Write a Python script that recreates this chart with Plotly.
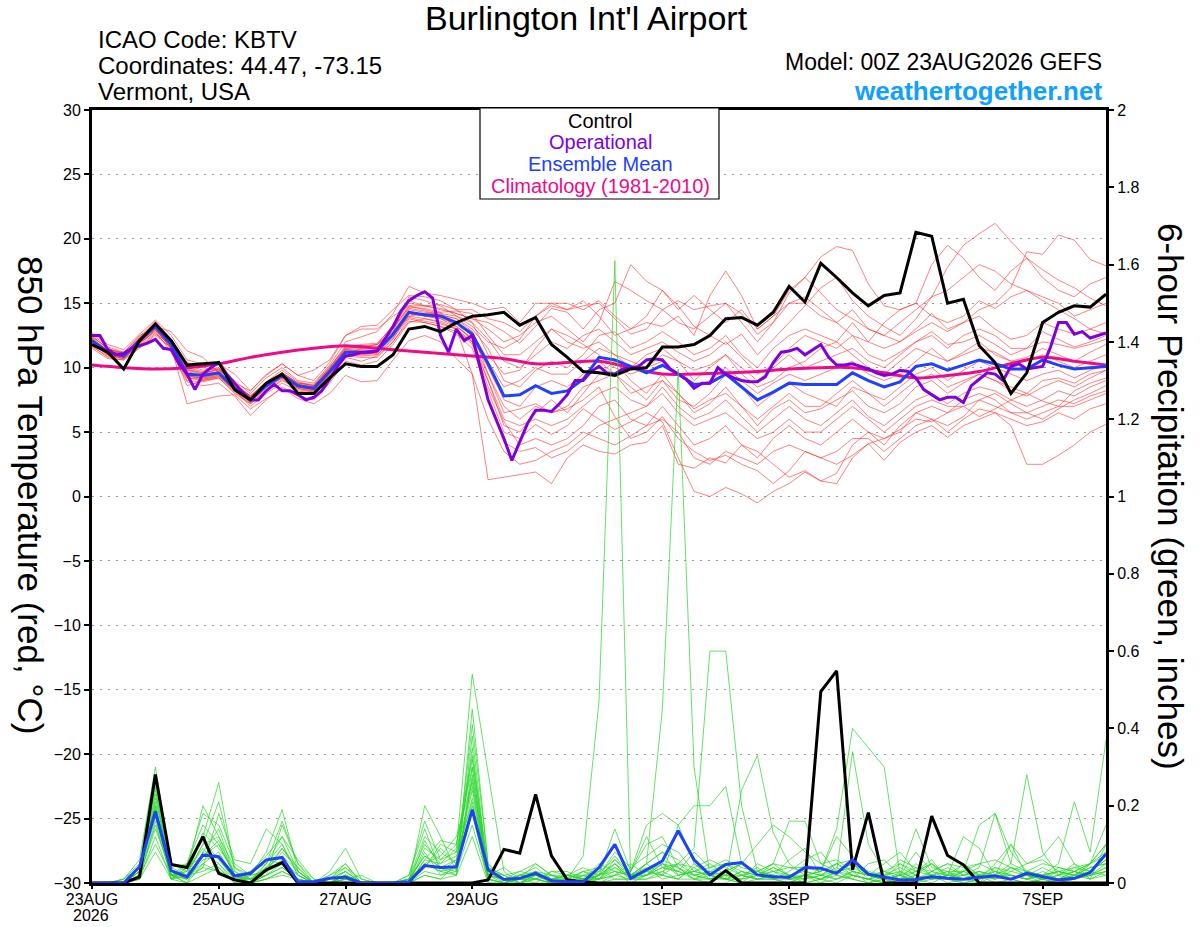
import pandas as pd
import plotly.graph_objects as go

# ---- time axes -------------------------------------------------------------
times_6h = pd.date_range("2026-08-23 00:00", periods=65, freq="6h")
times_3h = pd.date_range("2026-08-23 00:00", periods=129, freq="3h")
times_12h = pd.date_range("2026-08-23 00:00", periods=33, freq="12h")

tick_dates = ["2026-08-23", "2026-08-25", "2026-08-27", "2026-08-29",
              "2026-09-01", "2026-09-03", "2026-09-05", "2026-09-07"]
tick_labels = ["23AUG", "25AUG", "27AUG", "29AUG",
               "1SEP", "3SEP", "5SEP", "7SEP"]
year_label = "2026"

# ---- 850 hPa temperature (C) -----------------------------------------------
control_temp = [11.8, 11.2, 9.9, 12.1, 13.4, 12.1, 10.2, 10.3, 10.4, 8.3,
                7.5, 8.8, 9.5, 8.0, 8.0, 9.2, 10.3, 10.1, 10.1, 11.0,
                13.0, 13.2, 12.8, 13.5, 14.0, 14.1, 14.3, 13.3, 13.9, 11.8,
                10.8, 9.7, 9.6, 9.4, 9.9, 10.0, 11.6, 11.6, 11.8, 12.5,
                13.8, 13.9, 13.3, 14.3, 16.3, 15.1, 18.1, 17.0, 15.8, 14.8,
                15.6, 15.8, 20.5, 20.2, 15.0, 15.3, 11.7, 10.4, 8.0, 9.6,
                13.5, 14.3, 14.8, 14.7, 15.7]

mean_temp = [12.1, 11.2, 10.9, 12.1, 13.2, 11.8, 9.5, 9.4, 9.6, 8.4,
             7.5, 8.6, 9.4, 8.6, 8.4, 9.7, 11.2, 11.2, 11.3, 12.6,
             14.3, 14.1, 14.0, 13.5, 12.6, 10.3, 7.8, 7.9, 8.6, 8.0,
             8.2, 9.1, 10.8, 10.6, 10.1, 9.6, 10.2, 9.5, 8.7, 8.8,
             9.5, 8.5, 7.5, 8.1, 8.8, 8.7, 8.7, 8.7, 9.6, 9.0,
             8.5, 8.9, 10.1, 10.3, 9.8, 10.2, 10.6, 10.3, 9.9, 9.9,
             10.6, 10.2, 9.9, 10.0, 10.1]

# operational run, 3-hourly
oper_temp = [12.5, 12.5, 11.4, 11.0, 11.1, 11.5, 11.7, 11.9, 12.2, 11.5,
             11.4, 10.3, 9.5, 8.3, 9.5, 10.0, 10.4, 9.5, 8.8, 8.1,
             7.5, 7.5, 8.2, 8.7, 8.2, 8.2, 7.9, 7.5, 7.7, 8.2,
             9.1, 10.1, 10.9, 11.0, 11.2, 11.2, 11.3, 12.3, 13.2, 14.4,
             15.2, 15.6, 15.9, 15.4, 12.5, 11.2, 13.0, 12.1, 12.5, 10.0,
             7.5, 6.0, 4.5, 2.8, 4.3, 5.7, 6.7, 6.7, 6.6, 7.2,
             7.9, 9.0, 9.0, 9.7, 10.1, 9.6, 9.5, 9.9, 10.0, 10.1,
             10.6, 10.7, 10.6, 9.9, 9.5, 9.1, 8.4, 8.8, 8.8, 10.0,
             9.5, 9.2, 9.0, 8.9, 8.9, 9.3, 10.4, 11.2, 11.3, 11.5,
             11.0, 11.4, 11.8, 10.8, 10.2, 10.2, 10.3, 10.1, 9.9, 9.6,
             9.4, 9.5, 9.8, 9.7, 9.2, 8.3, 7.9, 7.5, 7.7, 7.7,
             7.3, 8.6, 9.1, 9.6, 9.5, 9.0, 10.1, 10.3, 9.9, 10.0,
             10.1, 11.6, 13.5, 13.5, 12.6, 12.8, 12.3, 12.5, 12.7]

# climatology (1981-2010), 12-hourly
clim_temp = [10.2, 10.0, 9.9, 10.0, 10.3, 10.8, 11.2, 11.5, 11.7, 11.5,
             11.3, 11.1, 10.9, 10.7, 10.3, 10.4, 10.5, 10.0, 9.5, 9.5,
             9.6, 9.7, 9.9, 10.0, 10.0, 9.6, 9.2, 9.4, 9.7, 10.3,
             10.8, 10.5, 10.2]

# ensemble members
t01 = [12.4, 11.5, 11.0, 12.3, 13.5, 12.0, 10.2, 9.8, 10.0, 8.6, 7.8, 8.9, 9.8, 8.9, 8.6,
       10.0, 11.6, 11.8, 11.9, 13.2, 15.0, 14.8, 14.5, 14.2, 13.8, 13.5, 12.8, 11.9, 13.2, 14.6,
       14.3, 13.0, 14.5, 15.0, 18.0, 16.7, 16.0, 14.8, 13.2, 12.5, 11.8, 12.6, 11.0, 12.2, 13.5,
       14.8, 16.2, 17.0, 15.2, 14.0, 13.2, 12.5, 13.8, 15.5, 17.8, 19.5, 20.4, 21.2, 19.8, 18.5,
       17.6, 16.8, 16.2, 15.4, 14.8]
t02 = [11.9, 11.0, 10.7, 11.8, 12.9, 11.5, 9.0, 8.9, 9.2, 8.0, 7.2, 8.2, 9.0, 8.4, 8.1,
       9.5, 11.0, 11.5, 11.8, 12.8, 15.5, 15.2, 14.8, 14.0, 13.2, 12.0, 11.5, 12.2, 14.0, 15.0,
       14.5, 14.8, 15.0, 13.8, 12.6, 13.0, 14.5, 15.2, 14.5, 14.8, 15.0, 14.2, 12.6, 13.5, 15.8,
       17.0, 18.6, 19.4, 19.1, 16.5, 14.8, 14.5, 15.0, 14.0, 13.5, 14.0, 15.2, 14.6, 15.5, 16.0,
       15.2, 14.5, 13.8, 13.0, 12.6]
t03 = [12.2, 11.4, 11.2, 12.5, 13.0, 11.5, 8.6, 9.0, 9.3, 8.3, 7.0, 8.0, 8.8, 8.2, 8.0,
       9.5, 10.8, 10.5, 10.9, 12.0, 13.8, 13.5, 13.2, 12.6, 11.5, 8.2, 5.0, 4.5, 5.6, 4.8,
       5.5, 6.8, 6.0, 5.2, 5.8, 6.5, 5.8, 3.0, 0.4, 0.0, 0.7, 0.2, -0.5, 0.4, 1.0,
       1.9, 1.2, 1.0, 3.0, 4.1, 4.5, 5.2, 6.0, 5.8, 6.5, 7.0, 6.2, 6.8, 7.5, 8.0,
       7.4, 7.0, 8.2, 8.8, 9.2]
t04 = [11.7, 10.8, 10.6, 11.6, 12.6, 11.9, 9.8, 9.6, 9.8, 8.6, 7.6, 8.8, 9.6, 8.8, 8.6,
       9.8, 11.4, 11.3, 11.0, 12.2, 14.2, 14.0, 13.8, 13.4, 12.8, 9.5, 6.5, 6.8, 7.2, 6.5,
       6.8, 7.5, 8.5, 6.2, 4.5, 5.0, 6.2, 4.5, 3.5, 2.8, 3.2, 2.5, 2.0, 1.0, 2.0,
       3.5, 3.0, 2.5, 3.2, 4.1, 2.8, 4.2, 5.0, 5.5, 4.6, 5.5, 6.0, 6.5, 5.5, 2.5,
       2.5, 3.2, 4.0, 5.0, 5.6]
t05 = [12.0, 11.1, 10.9, 12.0, 13.0, 11.6, 9.3, 9.2, 9.4, 8.2, 7.4, 8.5, 9.3, 8.5, 8.3,
       9.6, 11.0, 11.0, 11.2, 12.5, 14.0, 14.2, 14.3, 13.0, 9.5, 1.3, 1.5, 1.7, 1.9, 1.0,
       3.0, 4.0, 3.5, 3.3, 4.0, 4.2, 5.5, 2.5, 2.2, 3.0, 2.6, 4.0, 3.5, 2.5, 1.5,
       2.0, 1.2, 1.8, 4.0, 5.0, 4.5, 5.0, 6.5, 6.0, 5.5, 6.2, 7.5, 8.0, 7.2, 6.5,
       6.0, 6.8, 7.5, 8.0, 8.6]
t06 = [12.6, 11.6, 11.2, 12.4, 13.6, 12.2, 10.4, 10.0, 9.8, 9.0, 8.0, 9.2, 10.0, 9.0, 8.8,
       10.2, 12.0, 12.4, 12.8, 14.2, 16.3, 15.8, 15.6, 15.3, 15.0, 14.5, 14.7, 13.5, 15.0, 15.0,
       15.0, 14.5, 15.2, 14.0, 13.0, 13.5, 13.2, 14.0, 12.5, 15.6, 17.5, 15.6, 13.0, 14.0, 16.0,
       17.0, 15.8, 14.5, 13.8, 13.0, 12.5, 12.0, 12.8, 13.5, 12.8, 13.5, 14.5, 15.0, 16.2, 19.0,
       18.8, 20.3, 19.9, 18.4, 17.9]
t07 = [11.8, 11.0, 10.8, 11.9, 12.8, 11.2, 8.9, 8.6, 8.8, 7.8, 6.3, 7.5, 8.5, 7.8, 7.5,
       8.8, 10.5, 10.2, 10.5, 11.8, 13.5, 13.8, 13.5, 13.0, 11.8, 9.0, 5.5, 5.0, 6.5, 7.5,
       6.5, 8.0, 9.5, 10.5, 9.0, 8.0, 9.5, 8.0, 6.5, 7.2, 8.5, 7.0, 5.5, 6.8, 7.5,
       6.5, 6.8, 7.5, 8.2, 7.0, 6.5, 7.2, 8.5, 9.0, 8.0, 8.8, 9.5, 9.0, 8.2, 7.8,
       8.5, 9.0, 8.5, 9.2, 9.8]
t08 = [12.3, 11.3, 11.0, 12.2, 13.3, 12.0, 9.9, 9.6, 9.9, 8.7, 7.7, 8.7, 9.5, 8.7, 8.5,
       9.9, 11.5, 11.6, 11.8, 13.0, 14.8, 14.5, 14.2, 14.0, 13.5, 12.2, 10.5, 10.0, 11.0, 12.0,
       11.5, 12.5, 13.0, 12.0, 11.0, 11.5, 12.0, 11.2, 10.5, 11.0, 12.0, 10.8, 9.5, 10.2, 11.5,
       12.5, 12.0, 11.5, 12.5, 11.0, 10.5, 11.2, 12.0, 12.8, 11.8, 12.0, 12.5, 11.8, 11.0, 11.5,
       12.8, 12.2, 11.6, 12.0, 12.5]
t09 = [12.0, 11.2, 10.8, 12.0, 13.1, 11.8, 9.5, 9.5, 9.7, 8.5, 7.6, 8.7, 9.4, 8.6, 8.4,
       9.7, 11.2, 11.0, 11.1, 12.4, 14.2, 14.0, 14.0, 13.5, 12.0, 7.5, 4.2, 3.5, 3.8, 3.0,
       3.5, 4.5, 5.5, 6.0, 6.5, 7.0, 8.5, 7.0, 6.0, 6.5, 7.5, 6.2, 5.0, 6.0, 7.0,
       6.0, 5.5, 6.5, 7.5, 6.2, 5.5, 6.5, 7.5, 8.0, 7.2, 8.0, 8.5, 8.2, 7.5, 7.0,
       7.5, 8.2, 7.8, 8.5, 9.0]
t10 = [12.5, 11.4, 11.1, 12.2, 13.4, 11.7, 9.6, 9.3, 9.5, 8.4, 7.4, 8.6, 9.3, 8.6, 8.4,
       9.8, 11.3, 11.4, 11.5, 12.8, 14.5, 14.3, 14.1, 13.8, 13.0, 11.5, 9.0, 8.5, 9.8, 10.5,
       10.0, 11.0, 12.5, 12.8, 11.5, 12.0, 12.8, 12.0, 11.0, 11.5, 12.5, 11.0, 10.0, 11.5, 12.5,
       13.0, 12.5, 12.0, 13.5, 12.0, 11.5, 12.0, 13.0, 14.2, 13.0, 13.5, 14.0, 13.0, 12.2, 12.5,
       13.5, 13.0, 12.6, 13.0, 13.5]
t11 = [11.6, 10.9, 10.7, 11.7, 12.7, 11.4, 9.2, 9.0, 9.2, 8.1, 7.2, 8.3, 9.1, 8.3, 8.1,
       9.4, 10.9, 10.8, 10.8, 12.0, 13.6, 13.5, 13.2, 12.8, 12.0, 8.5, 5.8, 4.0, 4.5, 4.0,
       4.5, 5.5, 7.0, 7.5, 6.0, 5.5, 7.0, 5.5, 4.0, 4.5, 5.5, 4.0, 3.0, 4.5, 5.5,
       4.5, 4.0, 5.0, 6.0, 5.0, 4.0, 5.5, 6.5, 7.0, 6.5, 7.5, 8.0, 7.5, 6.5, 6.0,
       6.5, 7.0, 7.0, 7.5, 8.0]
t12 = [12.2, 11.3, 11.0, 12.2, 13.2, 12.0, 10.0, 9.7, 10.0, 8.8, 7.8, 8.9, 9.6, 8.8, 8.6,
       10.0, 11.7, 11.7, 11.8, 13.3, 15.2, 14.8, 14.6, 14.2, 13.8, 13.0, 12.0, 12.5, 13.5, 14.0,
       13.0, 12.0, 13.5, 16.7, 16.0, 15.2, 14.5, 13.5, 13.0, 14.0, 15.0, 13.5, 12.0, 13.5, 15.0,
       15.5, 14.5, 13.5, 12.5, 12.0, 13.5, 14.5, 15.0, 18.0, 19.5, 18.5, 17.0, 16.0, 17.5, 18.5,
       17.0, 16.0, 15.5, 16.5, 17.0]
t13 = [11.9, 11.1, 10.9, 12.1, 13.1, 11.9, 9.4, 9.1, 9.3, 8.2, 7.3, 8.4, 9.2, 8.5, 8.3,
       9.7, 11.1, 11.2, 11.4, 12.7, 14.4, 14.0, 13.8, 13.2, 12.3, 10.0, 7.5, 7.0, 8.5, 9.0,
       8.5, 9.5, 10.5, 9.5, 8.0, 8.5, 9.0, 7.5, 7.0, 8.0, 9.5, 8.5, 7.0, 8.0, 8.8,
       8.0, 7.5, 7.0, 8.5, 8.0, 7.5, 8.5, 9.5, 10.0, 9.0, 9.8, 10.5, 10.0, 9.5, 9.0,
       9.5, 9.8, 9.2, 9.8, 10.2]
t14 = [12.7, 11.8, 11.4, 12.6, 13.7, 12.5, 10.6, 10.3, 10.3, 9.5, 8.2, 9.4, 10.3, 9.4, 9.8,
       10.6, 12.5, 13.2, 13.3, 14.5, 15.6, 15.5, 15.2, 14.5, 13.5, 11.0, 9.5, 9.8, 11.5, 13.0,
       12.5, 11.8, 11.0, 10.0, 9.5, 10.0, 11.0, 10.5, 9.8, 10.2, 11.0, 9.5, 8.5, 9.0, 10.0,
       10.5, 11.5, 12.0, 11.0, 10.0, 9.5, 10.5, 11.5, 11.0, 10.5, 11.2, 12.0, 11.0, 10.5, 10.8,
       11.5, 11.0, 10.5, 11.2, 11.8]
t15 = [11.5, 10.7, 10.6, 11.5, 12.5, 11.6, 7.2, 7.5, 7.8, 7.9, 6.8, 7.6, 8.4, 7.6, 7.2,
       8.0, 9.4, 8.9, 9.0, 10.6, 12.1, 12.5, 12.0, 10.7, 9.5, 6.0, 3.5, 2.5, 2.8, 3.5,
       4.0, 5.0, 4.5, 4.0, 4.7, 5.5, 6.0, 5.0, 3.0, 2.5, 3.5, 3.0, 2.5, 3.5, 4.0,
       3.5, 3.0, 3.5, 4.5, 4.5, 3.5, 4.5, 5.5, 6.0, 5.0, 6.0, 6.8, 6.5, 6.0, 5.5,
       5.8, 6.5, 6.0, 6.8, 7.2]
t16 = [12.1, 11.3, 10.9, 12.1, 13.2, 12.8, 11.3, 10.8, 9.6, 8.8, 8.2, 9.5, 10.3, 9.4, 9.0,
       10.4, 12.5, 13.0, 13.0, 14.0, 14.8, 14.8, 14.9, 14.5, 14.5, 13.8, 13.5, 12.8, 14.0, 14.8,
       14.5, 15.2, 14.0, 12.5, 13.0, 14.0, 16.0, 14.5, 15.6, 14.5, 13.5, 14.5, 13.0, 14.0, 15.0,
       15.0, 14.0, 13.5, 14.5, 13.0, 12.5, 13.5, 14.5, 15.5, 16.0, 17.0, 18.0, 17.5, 16.5, 16.0,
       15.5, 15.0, 14.0, 14.5, 15.0]
t17 = [12.4, 11.5, 11.1, 12.3, 13.4, 11.9, 9.7, 9.4, 9.6, 8.6, 7.7, 8.8, 9.6, 8.8, 8.7,
       10.1, 11.5, 11.6, 11.6, 13.0, 14.6, 14.4, 14.1, 13.8, 12.8, 10.5, 8.5, 9.0, 10.0, 9.5,
       9.5, 10.5, 11.5, 11.0, 10.5, 10.0, 10.5, 9.5, 8.5, 9.0, 10.0, 9.0, 8.0, 8.8, 9.5,
       9.0, 9.5, 10.0, 10.5, 9.5, 9.0, 9.5, 10.5, 11.5, 10.5, 11.0, 11.5, 11.2, 10.5, 10.5,
       11.0, 10.5, 10.0, 10.5, 11.0]
t18 = [11.8, 11.0, 10.8, 11.9, 12.9, 11.7, 9.2, 9.1, 9.4, 8.3, 7.5, 8.6, 9.3, 8.5, 8.2,
       9.6, 11.0, 11.1, 11.2, 12.5, 14.0, 13.8, 13.6, 13.2, 12.2, 9.0, 6.0, 5.5, 6.0, 5.5,
       6.0, 7.0, 8.0, 8.5, 7.5, 7.0, 8.0, 6.5, 5.5, 6.0, 6.5, 5.5, 4.5, 5.0, 6.0,
       5.0, 5.0, 6.0, 7.0, 6.0, 5.0, 6.0, 7.0, 7.5, 7.0, 7.0, 7.5, 7.0, 6.5, 6.5,
       7.0, 7.5, 7.2, 7.8, 8.2]
t19 = [12.3, 11.2, 11.0, 12.3, 13.3, 12.2, 9.8, 9.5, 9.9, 8.7, 7.8, 8.8, 9.5, 8.7, 8.5,
       9.9, 11.4, 11.5, 11.6, 13.1, 14.7, 14.6, 14.3, 14.4, 14.2, 12.5, 11.0, 11.0, 12.0, 13.0,
       12.0, 11.5, 12.0, 11.0, 10.0, 11.0, 11.5, 10.5, 9.0, 10.0, 11.0, 10.0, 9.0, 10.0, 11.0,
       10.0, 10.5, 11.0, 11.5, 10.5, 10.0, 11.0, 12.0, 12.5, 11.5, 12.5, 13.0, 12.5, 11.5, 11.5,
       12.0, 11.8, 11.5, 11.8, 12.2]
t20 = [12.0, 11.0, 10.7, 11.9, 13.0, 11.5, 9.4, 9.2, 9.5, 8.3, 7.3, 8.5, 9.2, 8.4, 8.2,
       9.5, 11.0, 10.9, 11.0, 12.3, 13.9, 13.6, 13.4, 13.0, 12.0, 9.5, 7.0, 6.0, 7.0, 6.5,
       7.0, 8.5, 9.0, 9.5, 8.5, 7.5, 9.0, 8.0, 6.8, 7.5, 8.0, 7.0, 6.0, 7.0, 8.0,
       7.0, 7.0, 8.0, 9.0, 8.0, 7.0, 8.0, 9.0, 9.5, 8.5, 9.0, 9.5, 9.0, 8.5, 8.0,
       9.0, 9.2, 8.8, 9.5, 9.8]

# ---- 6-hour precipitation (inches) -----------------------------------------
control_prcp = [0, 0, 0, 0.016, 0.281, 0.048, 0.04, 0.12, 0.025, 0.008,
                0, 0.034, 0.053, 0, 0, 0, 0, 0, 0, 0,
                0, 0, 0, 0, 0, 0.008, 0.087, 0.077, 0.229, 0.07,
                0.008, 0.003, 0, 0, 0, 0, 0, 0, 0, 0,
                0.032, 0, 0, 0, 0, 0, 0.495, 0.549, 0.034, 0.182,
                0, 0, 0, 0.173, 0.071, 0.047, 0, 0, 0, 0,
                0, 0, 0, 0, 0]

mean_prcp = [0, 0, 0, 0.042, 0.185, 0.032, 0.016, 0.072, 0.068, 0.018,
             0.025, 0.06, 0.066, 0.003, 0.003, 0.012, 0.015, 0, 0, 0,
             0.003, 0.045, 0.04, 0.042, 0.19, 0.034, 0.009, 0.012, 0.025, 0.006,
             0.003, 0.003, 0.04, 0.1, 0.012, 0.035, 0.057, 0.135, 0.06, 0.021,
             0.048, 0.053, 0.021, 0.016, 0.015, 0.04, 0.038, 0.025, 0.06, 0.023,
             0.016, 0.008, 0.009, 0.016, 0.012, 0.01, 0.015, 0.018, 0.01, 0.025,
             0.016, 0.008, 0.012, 0.027, 0.075]

p01 = [0, 0, 0, 0.02, 0.22, 0.03, 0.01, 0.08, 0.05, 0, 0, 0.02, 0.05, 0, 0,
       0, 0.01, 0, 0, 0, 0, 0.05, 0.03, 0.02, 0.30, 0.02, 0, 0.01, 0.03, 0,
       0.01, 0.07, 0.47, 1.61, 0.01, 0.02, 0.05, 0.03, 0.01, 0, 0, 0.02, 0.04, 0.01, 0,
       0, 0.01, 0, 0.02, 0.01, 0, 0, 0.02, 0.05, 0.01, 0, 0, 0.02, 0.01, 0,
       0.01, 0, 0.02, 0.05, 0.10]
p02 = [0, 0, 0, 0.03, 0.18, 0.01, 0.02, 0.10, 0.12, 0.02, 0, 0.05, 0.10, 0.02, 0,
       0.01, 0.03, 0, 0, 0, 0.01, 0.12, 0.08, 0.05, 0.41, 0.05, 0.01, 0, 0.02, 0.01,
       0, 0.01, 0.02, 0.05, 0.01, 0.05, 0.45, 1.33, 0.30, 0.02, 0.01, 0, 0.03, 0.05, 0.02,
       0, 0, 0.03, 0.05, 0.02, 0.01, 0, 0, 0.02, 0.03, 0.01, 0, 0.04, 0.02, 0.01,
       0, 0.01, 0.03, 0.02, 0.05]
p03 = [0, 0, 0, 0.02, 0.25, 0.02, 0, 0.05, 0.03, 0.01, 0.02, 0.08, 0.19, 0.03, 0,
       0, 0.02, 0, 0, 0, 0, 0.02, 0.01, 0.05, 0.20, 0, 0, 0.02, 0.01, 0,
       0, 0, 0.03, 0.10, 0.02, 0.05, 0.02, 0.05, 0.09, 0.60, 0.60, 0.20, 0.03, 0.01, 0,
       0.02, 0.01, 0.03, 0.05, 0.01, 0, 0.03, 0.01, 0, 0.02, 0.05, 0.02, 0, 0.01, 0.02,
       0, 0, 0.01, 0.03, 0.06]
p04 = [0, 0, 0, 0.04, 0.20, 0.01, 0.04, 0.12, 0.26, 0.03, 0, 0.01, 0.03, 0.01, 0,
       0.02, 0.05, 0, 0, 0, 0.01, 0.10, 0.05, 0.09, 0.54, 0.29, 0.03, 0, 0.01, 0,
       0, 0.02, 0, 0.02, 0.03, 0.10, 0.12, 0.04, 0.01, 0.03, 0.05, 0.02, 0.01, 0.02, 0.01,
       0.02, 0.03, 0.14, 0.40, 0.35, 0.30, 0.02, 0, 0.01, 0.03, 0, 0.01, 0.05, 0.10, 0.02,
       0.01, 0.03, 0.02, 0.02, 0.04]
p05 = [0, 0, 0.01, 0.05, 0.28, 0.04, 0.05, 0.18, 0.15, 0.05, 0.02, 0.03, 0.06, 0.02, 0,
       0.03, 0.09, 0.01, 0, 0, 0, 0.20, 0.12, 0.03, 0.45, 0.05, 0, 0.02, 0.03, 0.01,
       0.01, 0, 0.02, 0.14, 0.03, 0.15, 0.18, 0.15, 0.05, 0.02, 0.01, 0.24, 0.33, 0.13, 0.05,
       0.02, 0, 0.01, 0.03, 0, 0.01, 0.02, 0, 0.03, 0.05, 0.02, 0.04, 0.18, 0.08, 0.03,
       0.02, 0.05, 0.21, 0.08, 0.37]
p06 = [0, 0, 0, 0.02, 0.15, 0.02, 0.05, 0.15, 0.10, 0.02, 0.03, 0.05, 0.12, 0.06, 0.01,
       0, 0.03, 0, 0, 0, 0.02, 0.16, 0.06, 0.10, 0.30, 0.02, 0.01, 0.03, 0.05, 0.02,
       0.01, 0.03, 0.01, 0.05, 0.01, 0.03, 0.02, 0.15, 0.20, 0.20, 0.25, 0.05, 0.02, 0.05, 0.16,
       0.16, 0.05, 0.03, 0.34, 0.10, 0.03, 0.01, 0.05, 0.02, 0.01, 0.03, 0.15, 0.18, 0.05, 0.28,
       0.08, 0.02, 0.01, 0.05, 0.15]
p07 = [0, 0, 0, 0.01, 0.12, 0.01, 0.02, 0.05, 0.08, 0.01, 0.01, 0.02, 0.15, 0.05, 0,
       0.01, 0.04, 0, 0, 0, 0.01, 0.05, 0.07, 0.12, 0.26, 0.03, 0, 0.01, 0.02, 0.01,
       0.02, 0.01, 0.05, 0.03, 0.02, 0.05, 0.08, 0.02, 0.03, 0.05, 0.02, 0.01, 0.05, 0.03, 0.01,
       0.05, 0.03, 0.12, 0.07, 0.02, 0.01, 0.05, 0.03, 0.06, 0.01, 0.01, 0.02, 0.01, 0.03, 0.05,
       0.07, 0.12, 0.05, 0.03, 0.08]
p08 = [0, 0, 0.01, 0.06, 0.30, 0.05, 0.03, 0.20, 0.12, 0.04, 0.01, 0.03, 0.09, 0.04, 0,
       0, 0.01, 0.02, 0, 0, 0, 0.04, 0.10, 0.08, 0.25, 0.02, 0.04, 0.01, 0.01, 0.03,
       0.02, 0.01, 0.01, 0.02, 0.05, 0.02, 0.03, 0.01, 0.05, 0.02, 0.03, 0.05, 0.10, 0.15, 0.12,
       0.08, 0.05, 0.06, 0.03, 0.02, 0.05, 0.08, 0.03, 0.02, 0.01, 0.03, 0.05, 0.03, 0.01, 0.02,
       0.01, 0.02, 0.05, 0.01, 0.02]
p09 = [0, 0, 0, 0.03, 0.20, 0.02, 0, 0.08, 0.14, 0.02, 0, 0.02, 0.04, 0.01, 0,
       0, 0.02, 0, 0, 0, 0, 0.08, 0.02, 0.04, 0.35, 0.01, 0, 0, 0.02, 0,
       0, 0.01, 0.02, 0.07, 0.02, 0.05, 0.08, 0.06, 0.02, 0.01, 0.03, 0.05, 0.03, 0.02, 0.06,
       0.09, 0.02, 0.03, 0.01, 0.05, 0.06, 0.02, 0.08, 0.03, 0.01, 0.05, 0.02, 0.02, 0.10, 0.05,
       0.06, 0.03, 0.01, 0.02, 0.03]
p10 = [0, 0, 0, 0.02, 0.17, 0.02, 0.01, 0.04, 0.18, 0.06, 0.05, 0.14, 0.10, 0.02, 0,
       0, 0.01, 0, 0, 0, 0.02, 0.14, 0.03, 0.06, 0.22, 0.04, 0.02, 0, 0, 0.03,
       0.03, 0.01, 0.01, 0.04, 0.01, 0.02, 0.04, 0.05, 0.02, 0.03, 0.01, 0.03, 0.02, 0.04, 0.02,
       0.01, 0.02, 0.04, 0.02, 0.01, 0.02, 0.04, 0.02, 0.01, 0.02, 0.12, 0.09, 0.02, 0.04, 0.02,
       0.01, 0.04, 0.03, 0.01, 0.10]
p11 = [0, 0, 0, 0.02, 0.10, 0.02, 0.02, 0.03, 0.05, 0.01, 0, 0.01, 0.02, 0.01, 0,
       0, 0.02, 0, 0, 0, 0, 0.03, 0.02, 0.03, 0.15, 0.01, 0, 0.01, 0, 0,
       0, 0, 0.01, 0.03, 0, 0.02, 0.05, 0.04, 0.01, 0.02, 0.01, 0.02, 0.01, 0.01, 0.02,
       0.03, 0.02, 0.05, 0.02, 0.01, 0, 0.01, 0.02, 0.01, 0.01, 0.02, 0.01, 0.02, 0.02, 0.01,
       0.02, 0.03, 0.02, 0.01, 0.03]
p12 = [0, 0, 0, 0.03, 0.24, 0.03, 0.01, 0.06, 0.07, 0.01, 0.01, 0.04, 0.07, 0.03, 0,
       0.01, 0.05, 0, 0, 0, 0.01, 0.07, 0.04, 0.02, 0.28, 0.02, 0.01, 0.02, 0.04, 0.01,
       0.01, 0.02, 0.01, 0.06, 0.03, 0.12, 0.04, 0.03, 0.08, 0.04, 0.05, 0.03, 0.01, 0.01, 0.03,
       0.06, 0.08, 0.03, 0.05, 0.02, 0.01, 0.02, 0.14, 0.04, 0.03, 0.03, 0.01, 0.03, 0.02, 0.01,
       0.03, 0.01, 0.02, 0.04, 0.05]
p13 = [0, 0, 0.01, 0.04, 0.19, 0.02, 0.03, 0.09, 0.04, 0, 0.02, 0.06, 0.05, 0, 0,
       0, 0.01, 0, 0, 0, 0, 0.06, 0.05, 0.07, 0.21, 0.01, 0, 0, 0.01, 0.02,
       0, 0.03, 0.04, 0.01, 0.01, 0.01, 0.03, 0.05, 0.04, 0.01, 0.02, 0.01, 0.02, 0.03, 0.02,
       0.01, 0.04, 0.02, 0.01, 0, 0.02, 0.03, 0.01, 0.02, 0.04, 0.02, 0.03, 0.01, 0.02, 0.01,
       0.02, 0.01, 0.03, 0.02, 0.04]
p14 = [0, 0, 0, 0.01, 0.16, 0.01, 0.04, 0.07, 0.10, 0.02, 0.01, 0.02, 0.04, 0.01, 0,
       0.01, 0.03, 0, 0, 0, 0, 0.09, 0.06, 0.08, 0.32, 0.03, 0.02, 0, 0.03, 0,
       0, 0.02, 0.01, 0.02, 0.01, 0.03, 0.02, 0.01, 0.04, 0.06, 0.04, 0.02, 0.01, 0.02, 0.01,
       0.02, 0.01, 0.03, 0.04, 0.02, 0.03, 0.05, 0.02, 0.01, 0.02, 0.01, 0.02, 0.04, 0.03, 0.02,
       0.04, 0.02, 0.03, 0.05, 0.08]
p15 = [0, 0, 0, 0.02, 0.14, 0.03, 0.02, 0.04, 0.03, 0.01, 0, 0.03, 0.08, 0.04, 0,
       0, 0.02, 0, 0, 0, 0.01, 0.04, 0.09, 0.05, 0.18, 0.01, 0, 0.02, 0.01, 0,
       0.01, 0, 0.02, 0.04, 0.02, 0.04, 0.01, 0.02, 0.03, 0.02, 0.01, 0.01, 0.02, 0.01, 0.01,
       0.01, 0.02, 0.01, 0.03, 0.02, 0.01, 0.02, 0.04, 0.02, 0, 0.01, 0.03, 0.02, 0.01, 0.03,
       0.02, 0.01, 0.02, 0.03, 0.02]
p16 = [0, 0, 0, 0.03, 0.21, 0.01, 0.05, 0.11, 0.06, 0.01, 0.03, 0.07, 0.12, 0.03, 0,
       0.02, 0.04, 0.01, 0, 0, 0, 0.11, 0.04, 0.03, 0.38, 0.02, 0.01, 0.01, 0.05, 0.02,
       0.02, 0.02, 0.03, 0.06, 0.02, 0.02, 0.06, 0.04, 0.02, 0.01, 0.02, 0.05, 0.02, 0.03, 0.04,
       0.03, 0.02, 0.01, 0.02, 0.01, 0.02, 0.01, 0.03, 0.05, 0.02, 0.03, 0.02, 0.01, 0.04, 0.02,
       0.01, 0.02, 0.04, 0.03, 0.06]
p17 = [0, 0, 0, 0.01, 0.08, 0.01, 0, 0.02, 0.04, 0, 0, 0.01, 0.03, 0.01, 0,
       0, 0.01, 0, 0, 0, 0, 0.02, 0.01, 0.02, 0.12, 0, 0, 0.01, 0.01, 0,
       0, 0.01, 0, 0.01, 0.01, 0.01, 0.02, 0.01, 0.01, 0.01, 0.01, 0, 0.01, 0.02, 0.01,
       0, 0.01, 0.02, 0.01, 0, 0.01, 0, 0.01, 0.02, 0.01, 0, 0.01, 0.02, 0.01, 0,
       0.01, 0, 0.01, 0.02, 0.03]
p18 = [0, 0, 0, 0.02, 0.26, 0.04, 0.02, 0.13, 0.09, 0.03, 0.01, 0.05, 0.16, 0.05, 0.01,
       0, 0.02, 0, 0, 0, 0, 0.06, 0.11, 0.10, 0.33, 0.04, 0.02, 0.03, 0.02, 0.01,
       0.02, 0.04, 0.02, 0.08, 0.04, 0.07, 0.10, 0.08, 0.03, 0.04, 0.06, 0.04, 0.03, 0.05, 0.04,
       0.04, 0.03, 0.05, 0.06, 0.03, 0.02, 0.06, 0.04, 0.03, 0.05, 0.04, 0.05, 0.06, 0.04, 0.03,
       0.05, 0.04, 0.03, 0.05, 0.07]
p19 = [0, 0, 0, 0.03, 0.23, 0.02, 0.03, 0.10, 0.21, 0.04, 0.02, 0.03, 0.05, 0.02, 0,
       0.01, 0.02, 0, 0, 0, 0.01, 0.07, 0.04, 0.06, 0.24, 0.02, 0.01, 0.01, 0.03, 0.02,
       0.01, 0.03, 0.02, 0.05, 0.02, 0.03, 0.05, 0.02, 0.03, 0.02, 0.01, 0.03, 0.02, 0.04, 0.02,
       0.02, 0.03, 0.05, 0.03, 0.02, 0.01, 0.02, 0.03, 0.05, 0.02, 0.02, 0.03, 0.02, 0.05, 0.03,
       0.02, 0.03, 0.02, 0.04, 0.05]
p20 = [0, 0, 0, 0.02, 0.19, 0.02, 0.01, 0.07, 0.11, 0.02, 0.01, 0.04, 0.09, 0.03, 0,
       0, 0.02, 0, 0, 0, 0, 0.05, 0.03, 0.04, 0.27, 0.03, 0.01, 0.02, 0.02, 0.01,
       0.02, 0.01, 0.02, 0.03, 0.02, 0.02, 0.04, 0.03, 0.02, 0.03, 0.02, 0.02, 0.03, 0.02, 0.01,
       0.02, 0.01, 0.03, 0.02, 0.01, 0.03, 0.02, 0.01, 0.03, 0.02, 0.01, 0.02, 0.03, 0.02, 0.01,
       0.02, 0.03, 0.04, 0.05, 0.10]

temp_members = [t01, t02, t03, t04, t05, t06, t07, t08, t09, t10,
                t11, t12, t13, t14, t15, t16, t17, t18, t19, t20]
prcp_members = [p01, p02, p03, p04, p05, p06, p07, p08, p09, p10,
                p11, p12, p13, p14, p15, p16, p17, p18, p19, p20]

# ---- colours / layout helpers ----------------------------------------------
C_BLACK = "black"
C_OPER = "#8000dd"
C_MEAN = "#2040ff"
C_CLIM = "#ee0a88"
C_MEMBER_T = "rgba(255,40,40,0.65)"
C_MEMBER_P = "rgba(40,215,40,0.8)"
FONT = "Liberation Sans, Arial, sans-serif"

W, H = 1200, 927
L, R, T, B = 92, 1106, 110, 883   # plot area in pixels


def px_x(px):
    return (px - L) / (R - L)


def px_y(py):
    return (B - py) / (B - T)


fig = go.Figure()

# ensemble members (precip first so temperature sits on top)
for m in prcp_members:
    fig.add_trace(go.Scatter(x=times_6h, y=m, yaxis="y2", mode="lines",
                             line=dict(color=C_MEMBER_P, width=0.9),
                             hoverinfo="skip", showlegend=False))
for m in temp_members:
    fig.add_trace(go.Scatter(x=times_6h, y=m, mode="lines",
                             line=dict(color=C_MEMBER_T, width=0.9),
                             hoverinfo="skip", showlegend=False))

# precip control + mean
fig.add_trace(go.Scatter(x=times_6h, y=control_prcp, yaxis="y2", mode="lines",
                         line=dict(color=C_BLACK, width=3), showlegend=False))
fig.add_trace(go.Scatter(x=times_6h, y=mean_prcp, yaxis="y2", mode="lines",
                         line=dict(color=C_MEAN, width=3), showlegend=False))

# temperature thick lines
fig.add_trace(go.Scatter(x=times_12h, y=clim_temp, mode="lines",
                         line=dict(color=C_CLIM, width=3, shape="spline"),
                         showlegend=False))
fig.add_trace(go.Scatter(x=times_6h, y=mean_temp, mode="lines",
                         line=dict(color=C_MEAN, width=3), showlegend=False))
fig.add_trace(go.Scatter(x=times_3h, y=oper_temp, mode="lines",
                         line=dict(color=C_OPER, width=3), showlegend=False))
fig.add_trace(go.Scatter(x=times_6h, y=control_temp, mode="lines",
                         line=dict(color=C_BLACK, width=3), showlegend=False))

axis_font = dict(family=FONT, size=16, color="black")

fig.update_layout(
    width=W, height=H,
    margin=dict(l=L, r=W - R, t=T, b=H - B, autoexpand=False),
    paper_bgcolor="white", plot_bgcolor="white",
    font=dict(family=FONT, color="black"),
    showlegend=False, hovermode=False,
    xaxis=dict(
        type="date", range=[times_6h[0], times_6h[-1]], automargin=False,
        tickvals=tick_dates, ticktext=tick_labels, tickfont=axis_font,
        ticks="outside", ticklen=3, tickwidth=2, tickcolor="black",
        ticklabelstandoff=-3,
        showgrid=False, zeroline=False,
        showline=True, linewidth=3, linecolor="black", mirror=True,
    ),
    yaxis=dict(
        range=[-30, 30], dtick=5, tick0=-30, tickfont=axis_font,
        automargin=False,
        ticks="outside", ticklen=5, tickwidth=2, tickcolor="black",
        showgrid=True, gridcolor="#9a9a9a", griddash="2px,6px", gridwidth=1,
        zeroline=False, showline=True, linewidth=3, linecolor="black",
    ),
    yaxis2=dict(
        range=[0, 2], dtick=0.2, tick0=0, overlaying="y", side="right",
        automargin=False,
        tickfont=axis_font, ticks="outside", ticklen=5, tickwidth=2,
        tickcolor="black", showgrid=False, zeroline=False,
        showline=True, linewidth=3, linecolor="black",
    ),
)

# year under the first date tick
fig.add_annotation(text=year_label, xref="paper", yref="paper",
                   x=px_x(91), y=px_y(916), xanchor="center", yanchor="middle",
                   showarrow=False, font=dict(family=FONT, size=16))

# legend box
fig.add_shape(type="rect", xref="paper", yref="paper",
              x0=px_x(480), x1=px_x(719), y0=px_y(199), y1=px_y(108),
              fillcolor="white", line=dict(color="black", width=1.2),
              layer="above")
legend_rows = [("Control", C_BLACK, 121), ("Operational", C_OPER, 142),
               ("Ensemble Mean", C_MEAN, 164),
               ("Climatology (1981-2010)", C_CLIM, 186)]
for text, color, ypx in legend_rows:
    fig.add_annotation(text=text, xref="paper", yref="paper",
                       x=px_x(600), y=px_y(ypx), xanchor="center",
                       yanchor="middle", showarrow=False,
                       font=dict(family=FONT, size=20, color=color))

# header texts
fig.add_annotation(text="Burlington Int'l Airport", xref="paper", yref="paper",
                   x=px_x(586), y=px_y(18), xanchor="center", yanchor="middle",
                   showarrow=False, font=dict(family=FONT, size=34))
for text, ypx in [("ICAO Code: KBTV", 40), ("Coordinates: 44.47, -73.15", 66),
                  ("Vermont, USA", 92)]:
    fig.add_annotation(text=text, xref="paper", yref="paper",
                       x=px_x(96), y=px_y(ypx), xanchor="left",
                       yanchor="middle", showarrow=False,
                       font=dict(family=FONT, size=24))
fig.add_annotation(text="Model: 00Z 23AUG2026 GEFS", xref="paper", yref="paper",
                   x=px_x(1104), y=px_y(62), xanchor="right", yanchor="middle",
                   showarrow=False, font=dict(family=FONT, size=23))
fig.add_annotation(text="<b>weathertogether.net</b>", xref="paper", yref="paper",
                   x=px_x(1104), y=px_y(91), xanchor="right", yanchor="middle",
                   showarrow=False,
                   font=dict(family=FONT, size=26, color="#10a0ff"))

# axis titles (read top to bottom)
fig.add_annotation(text="850 hPa Temperature (red, °C)", xref="paper",
                   yref="paper", x=px_x(31), y=px_y(495), xanchor="center",
                   yanchor="middle", textangle=90, showarrow=False,
                   font=dict(family=FONT, size=35))
fig.add_annotation(text="6-hour Precipitation (green, inches)", xref="paper",
                   yref="paper", x=px_x(1171), y=px_y(496), xanchor="center",
                   yanchor="middle", textangle=90, showarrow=False,
                   font=dict(family=FONT, size=35))

fig.write_html("out.html", config={"displayModeBar": False},
               post_script="document.body.style.margin='0';")
